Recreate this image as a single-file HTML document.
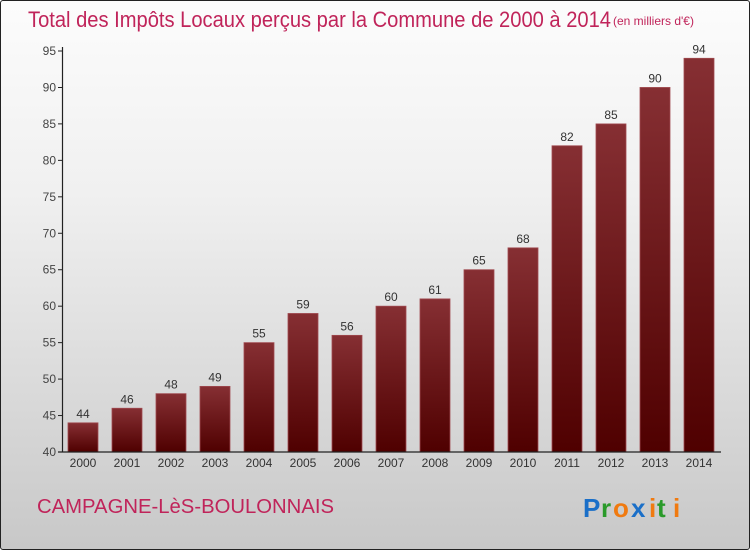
<!DOCTYPE html>
<html><head><meta charset="utf-8"><style>
body{margin:0}
#wrap{width:750px;height:550px;position:relative;overflow:hidden;box-sizing:border-box;border:1px solid #222;border-radius:3px;background:linear-gradient(#fcfcfc 0%,#f0f0f0 35%,#c8c8c8 100%);font-family:"Liberation Sans",sans-serif}
svg{position:absolute;left:0;top:0}
</style></head><body>
<div id="wrap">
<svg id="c" width="750" height="550">
<defs><linearGradient id="bg" x1="0" y1="0" x2="0" y2="1"><stop offset="0" stop-color="#862f33"/><stop offset="1" stop-color="#4f0000"/></linearGradient></defs>
<text x="27" y="26" font-size="22" fill="#c0245a" textLength="583" lengthAdjust="spacingAndGlyphs">Total des Impôts Locaux perçus par la Commune de 2000 à 2014</text>
<text x="612" y="24" font-size="12" fill="#c0245a">(en milliers d'€)</text>
<text x="36" y="512" font-size="20" fill="#c0245a" textLength="297" lengthAdjust="spacingAndGlyphs">CAMPAGNE-LèS-BOULONNAIS</text>
<g font-size="26" font-weight="bold" font-family="Liberation Sans,sans-serif"><text x="582" y="516" fill="#1a6fc8">P</text><text x="600" y="516" fill="#2a9a2a">r</text><text x="612" y="516" fill="#f07a10">o</text><text x="630" y="516" fill="#1a6fc8">x</text><text x="648" y="516" fill="#f07a10">i</text><text x="656" y="516" fill="#2a9a2a">t</text><text x="672" y="516" fill="#f07a10">i</text></g>
</svg>
</div>
<script>
const categories=["2000","2001","2002","2003","2004","2005","2006","2007","2008","2009","2010","2011","2012","2013","2014"];
const values=[44,46,48,49,55,59,56,60,61,65,68,82,85,90,94];
const yTicks=[40,45,50,55,60,65,70,75,80,85,90,95];
const svg=document.getElementById('c');
const NS='http://www.w3.org/2000/svg';
const y=v=>451-(v-40)*(401/55);
const x=i=>67+i*44;
function mk(t,a){const e=document.createElementNS(NS,t);for(const k in a)e.setAttribute(k,a[k]);svg.appendChild(e);return e;}
yTicks.forEach(t=>{
 const tl=mk('line',{x1:57,x2:62,y1:y(t),y2:y(t),stroke:'#222'});
 
 
 const tx=mk('text',{x:55,y:y(t)+4,'font-size':12,fill:'#444','text-anchor':'end'});tx.textContent=t;
 
 
});
categories.forEach((c,i)=>{
 const r=mk('rect',{x:x(i),y:y(values[i]),width:30,height:451-y(values[i]),fill:'url(#bg)',stroke:'#a04a50','stroke-width':0.8});
 
 
 const v=mk('text',{x:x(i)+15,y:y(values[i])-5,'font-size':12,fill:'#333','text-anchor':'middle'});v.textContent=values[i];
 
 
 const l=mk('text',{x:x(i)+15,y:466,'font-size':12,fill:'#333','text-anchor':'middle'});l.textContent=c;
 
 
});
const ya=mk('line',{x1:61.5,x2:61.5,y1:46,y2:451,stroke:'#222','stroke-width':1.2});


const xa=mk('line',{x1:57,x2:720,y1:451,y2:451,stroke:'#222','stroke-width':1.2});


</script>
</body></html>
